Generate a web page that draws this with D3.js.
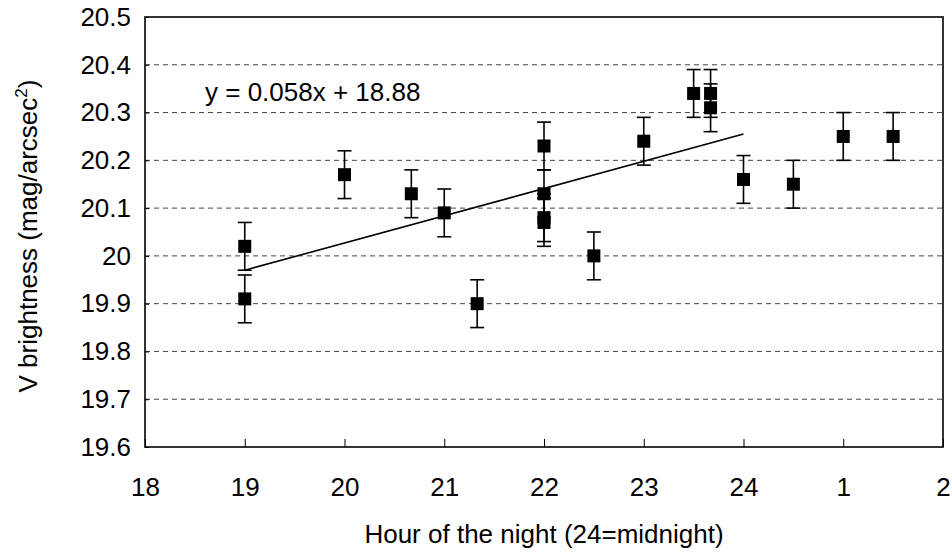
<!DOCTYPE html>
<html><head><meta charset="utf-8">
<script src="https://cdn.jsdelivr.net/npm/d3@7"></script>
<style>body{margin:0;background:#fff}svg{display:block}text{font-family:"Liberation Sans",Arial,Helvetica,sans-serif;fill:#000}</style>
</head><body>
<svg id="c" width="952" height="553"></svg>
<script>
// Data
const hours = [19, 19, 20, 20.67, 21, 21.33, 22, 22, 22, 22, 22.5, 23, 23.5, 23.67, 23.67, 24, 24.5, 25, 25.5];
const brightness = [20.02, 19.91, 20.17, 20.13, 20.09, 19.90, 20.23, 20.13, 20.08, 20.07, 20.00, 20.24, 20.34, 20.34, 20.31, 20.16, 20.15, 20.25, 20.25];
const errors = [0.05, 0.05, 0.05, 0.05, 0.05, 0.05, 0.05, 0.05, 0.05, 0.05, 0.05, 0.05, 0.05, 0.05, 0.05, 0.05, 0.05, 0.05, 0.05];
const trendX = [19, 24];
const trendY = [19.97, 20.255];
const xTickValues = [18, 19, 20, 21, 22, 23, 24, 25, 26];
const xTickLabels = ["18", "19", "20", "21", "22", "23", "24", "1", "2"];
const yTickValues = [19.6, 19.7, 19.8, 19.9, 20, 20.1, 20.2, 20.3, 20.4, 20.5];
const yTickLabels = ["19.6", "19.7", "19.8", "19.9", "20", "20.1", "20.2", "20.3", "20.4", "20.5"];
const equation = "y = 0.058x + 18.88";

const FS = 26;
const svg = d3.select("#c");
const L = 145, R = 943, T = 17, B = 447;
const x = d3.scaleLinear().domain([18, 26]).range([L, R]);
const y = d3.scaleLinear().domain([19.6, 20.5]).range([B, T]);

// gridlines
svg.append("g").selectAll("line").data(yTickValues.filter(v => v > 19.6 && v < 20.5)).join("line")
  .attr("x1", L).attr("x2", R).attr("y1", d => y(d)).attr("y2", d => y(d))
  .attr("stroke", "#444").attr("stroke-width", 1).attr("stroke-dasharray", "5,4");

// axes
const xAxis = d3.axisBottom(x).tickValues(xTickValues).tickFormat((d, i) => xTickLabels[i]).tickSizeInner(-8).tickSizeOuter(0).tickPadding(31);
const gx = svg.append("g").attr("transform", `translate(0,${B})`).call(xAxis);
gx.select(".domain").remove();
gx.selectAll("line").attr("stroke", "#000");
gx.selectAll("text").attr("font-size", FS).attr("font-family", '"Liberation Sans",Arial,sans-serif');

const yAxis = d3.axisLeft(y).tickValues(yTickValues).tickFormat((d, i) => yTickLabels[i]).tickSizeInner(-4).tickSizeOuter(0).tickPadding(14);
const gy = svg.append("g").attr("transform", `translate(${L},0)`).call(yAxis);
gy.select(".domain").remove();
gy.selectAll("line").attr("stroke", "#000");
gy.selectAll("text").attr("font-size", FS).attr("font-family", '"Liberation Sans",Arial,sans-serif');

// frame
svg.append("rect").attr("x", L).attr("y", T).attr("width", R - L).attr("height", B - T)
  .attr("fill", "none").attr("stroke", "#000").attr("stroke-width", 1.6);

// trend line
svg.append("line").attr("x1", x(trendX[0])).attr("y1", y(trendY[0])).attr("x2", x(trendX[1])).attr("y2", y(trendY[1]))
  .attr("stroke", "#000").attr("stroke-width", 1.6);

// error bars
const pts = hours.map((h, i) => ({h, b: brightness[i], e: errors[i]}));
const eg = svg.append("g").attr("stroke", "#000").attr("stroke-width", 1.6);
pts.forEach(p => {
  eg.append("line").attr("x1", x(p.h)).attr("x2", x(p.h)).attr("y1", y(p.b - p.e)).attr("y2", y(p.b + p.e));
  eg.append("line").attr("x1", x(p.h) - 7).attr("x2", x(p.h) + 7).attr("y1", y(p.b + p.e)).attr("y2", y(p.b + p.e));
  eg.append("line").attr("x1", x(p.h) - 7).attr("x2", x(p.h) + 7).attr("y1", y(p.b - p.e)).attr("y2", y(p.b - p.e));
});

// markers
const s = 13;
svg.append("g").selectAll("rect").data(pts).join("rect")
  .attr("x", d => x(d.h) - s / 2).attr("y", d => y(d.b) - s / 2).attr("width", s).attr("height", s).attr("fill", "#000");

// equation
svg.append("text").attr("x", 205).attr("y", 101).attr("font-size", FS).text(equation);

// axis titles
svg.append("text").attr("x", 544).attr("y", 543).attr("text-anchor", "middle").attr("font-size", FS)
  .text("Hour of the night (24=midnight)");
const yt = svg.append("text").attr("transform", `translate(37,236) rotate(-90)`).attr("text-anchor", "middle").attr("font-size", FS);
yt.append("tspan").text("V brightness (mag/arcsec");
yt.append("tspan").attr("font-size", 17).attr("dy", -10).text("2");
yt.append("tspan").attr("dy", 10).text(")");
</script>
</body></html>
